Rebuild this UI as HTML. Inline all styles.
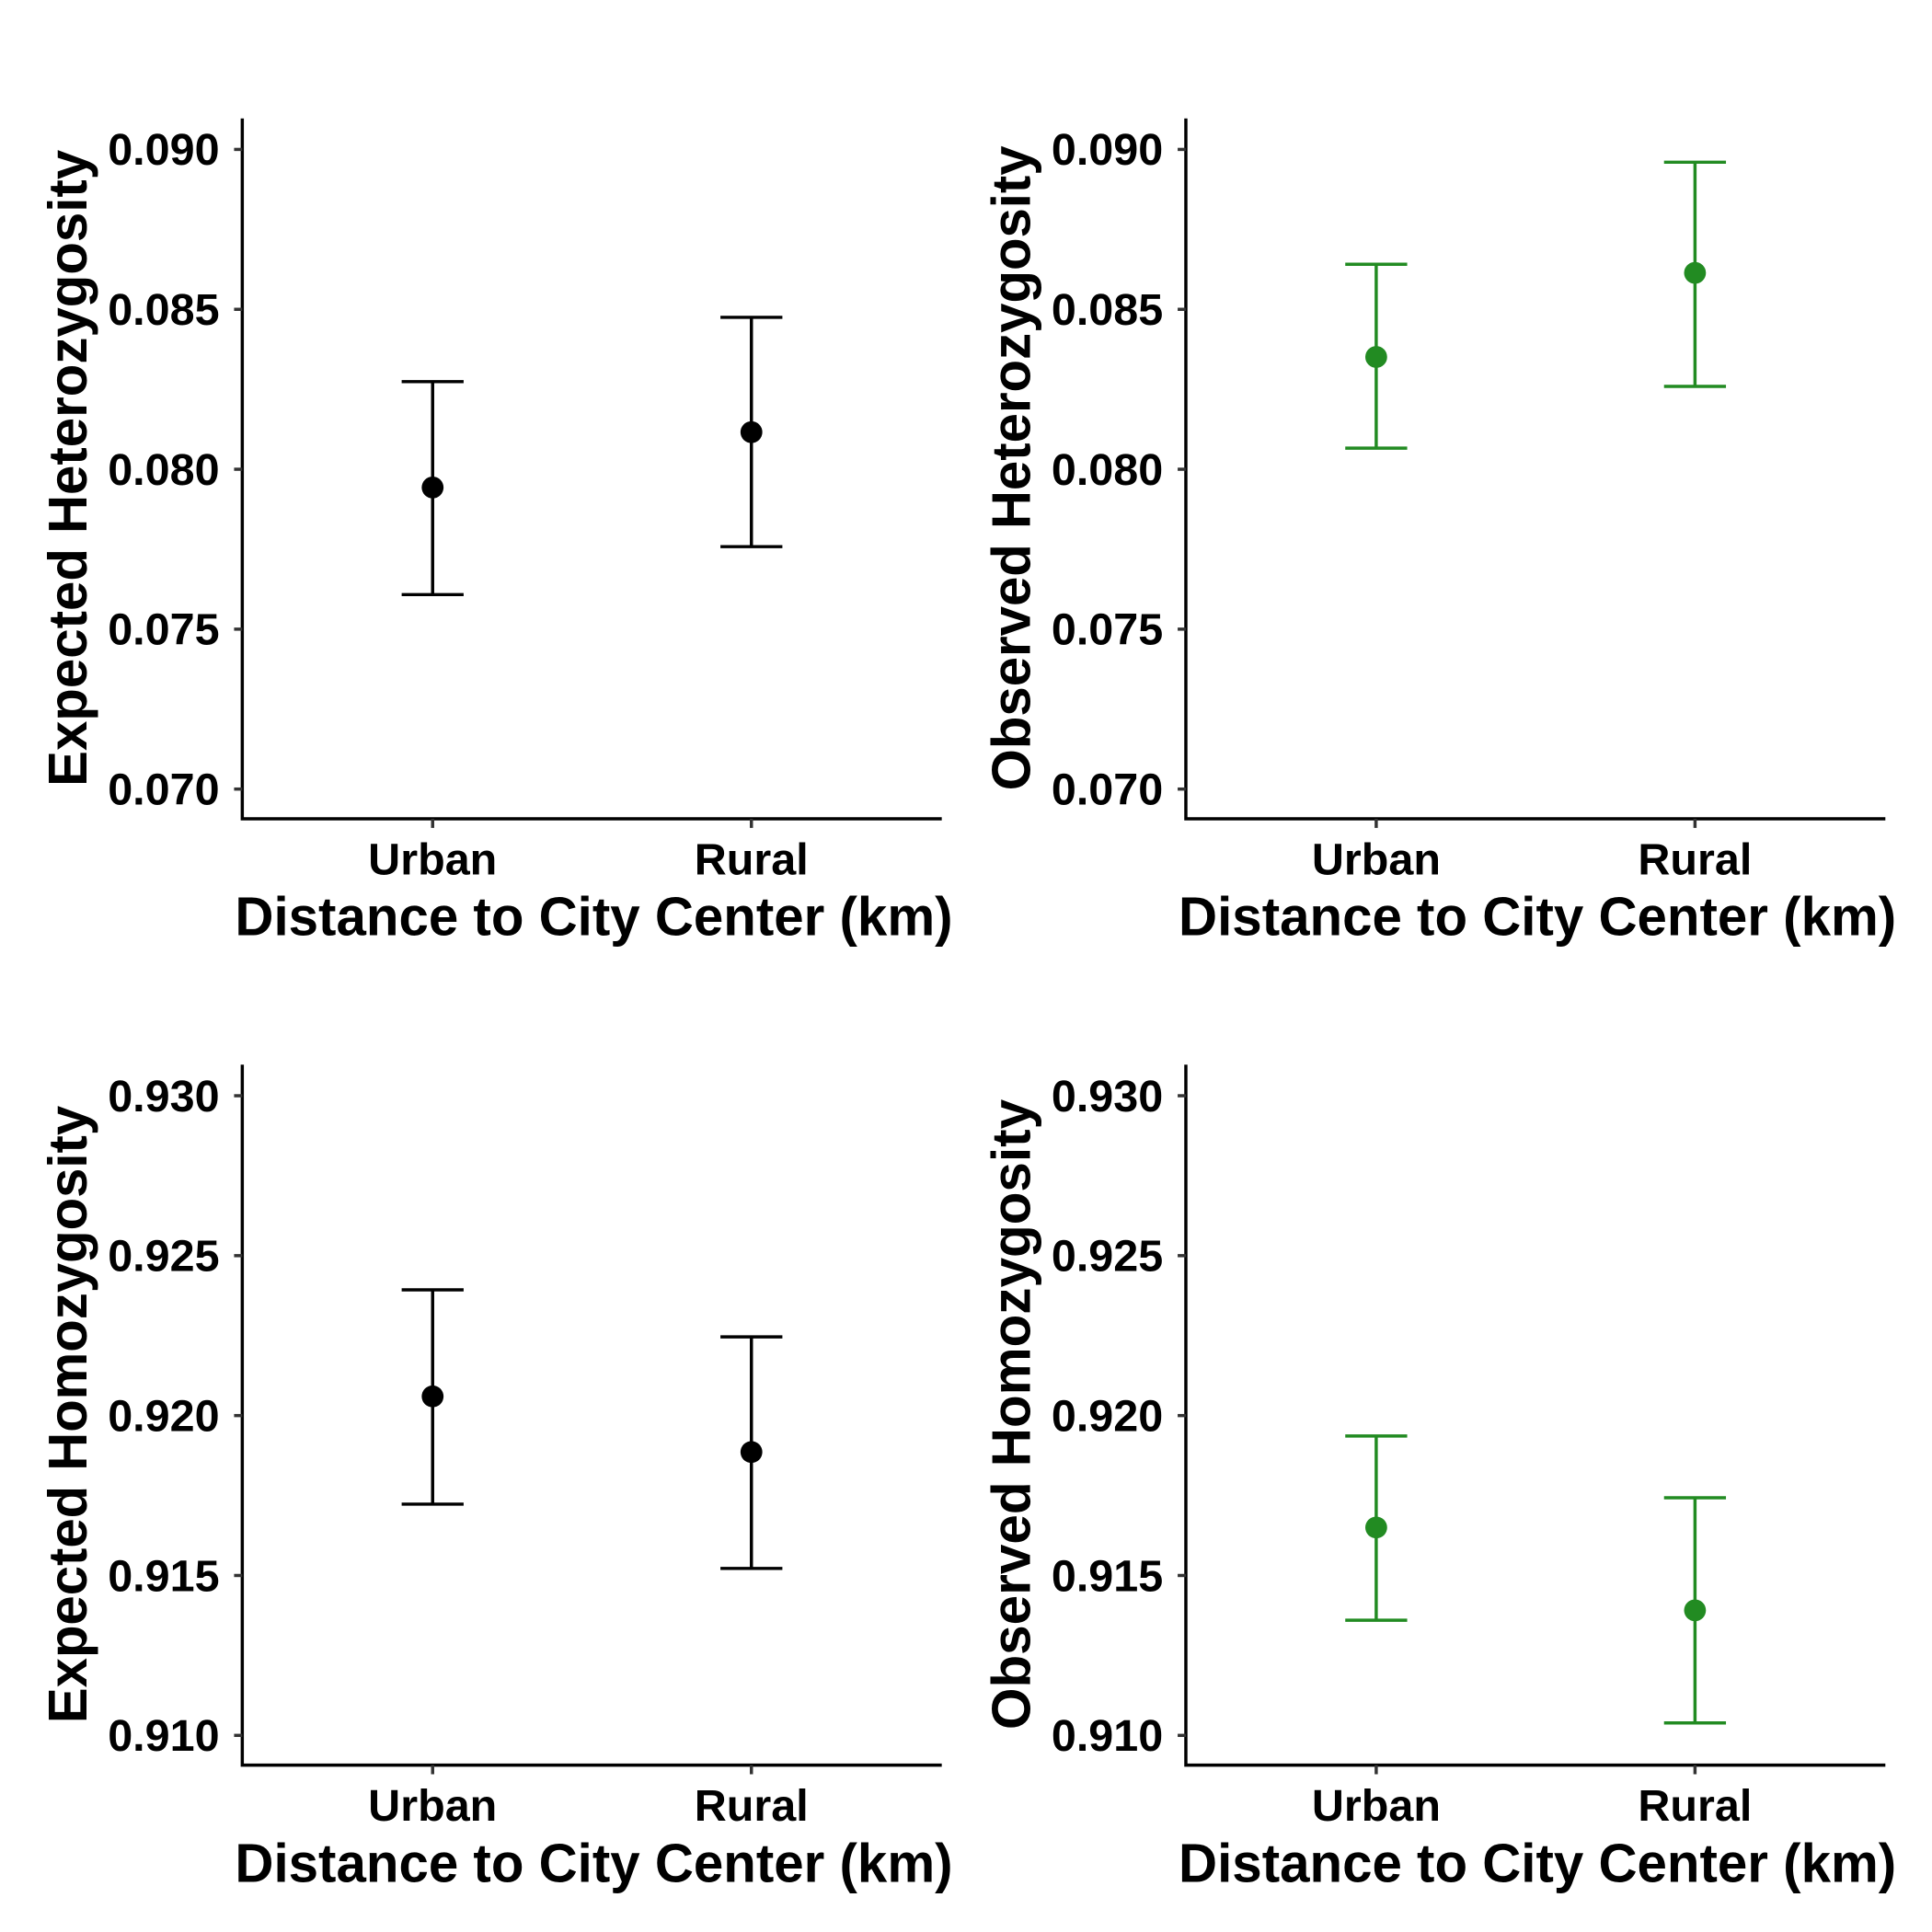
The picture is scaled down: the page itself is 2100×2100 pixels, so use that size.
<!DOCTYPE html>
<html><head><meta charset="utf-8"><style>
html,body{margin:0;padding:0;background:#fff}
svg{display:block}
text{font-family:"Liberation Sans",sans-serif;font-weight:bold;fill:#000}
</style></head><body>
<svg id="chart" width="2100" height="2100" viewBox="0 0 2100 2100"><g id="root" transform="scale(0.99)"></g></svg>
<script>
const categories = ["Urban", "Rural"];
const expHetMean = [0.07943, 0.08116];
const expHetLow = [0.07608, 0.07758];
const expHetHigh = [0.08274, 0.08475];
const obsHetMean = [0.08351, 0.08614];
const obsHetLow = [0.08066, 0.08259];
const obsHetHigh = [0.08641, 0.0896];
const expHomMean = [0.9206, 0.91886];
const expHomLow = [0.91723, 0.91522];
const expHomHigh = [0.92393, 0.92246];
const obsHomMean = [0.9165, 0.91391];
const obsHomLow = [0.9136, 0.91039];
const obsHomHigh = [0.91936, 0.91743];
const hetTicks = [0.070, 0.075, 0.080, 0.085, 0.090];
const homTicks = [0.910, 0.915, 0.920, 0.925, 0.930];
const hetDomain = [0.06907, 0.09097];
const homDomain = [0.90907, 0.93097];
const panelTitles = ["Expected Heterozygosity", "Observed Heterozygosity", "Expected Homozygosity", "Observed Homozygosity"];
const xTitle = "Distance to City Center (km)";

const NS = "http://www.w3.org/2000/svg";
const svg = document.getElementById("root");
function mk(tag, attrs, parent) {
  const e = document.createElementNS(NS, tag);
  for (const k in attrs) e.setAttribute(k, attrs[k]);
  parent.appendChild(e);
  return e;
}
const titleLens = [699, 708, 678, 692];
function panel(idx, ox, oy, mean, low, high, ticks, domain, color, slug) {
  const g = mk("g", {transform: `translate(${ox},${oy})`}, svg);
  
  
  const L = 266, R = 1034, T = 130, B = 899;
  const y = v => B - (v - domain[0]) / (domain[1] - domain[0]) * (B - T);
  const xs = [475, 825];
  const x = i => xs[i];
  const ax = mk("path", {d: `M${L},${T}V${B}H${R}`, fill: "none", stroke: "#000", "stroke-width": 3.5}, g);
  
  
  ticks.forEach(t => {
    const tk = mk("line", {x1: L - 9, x2: L, y1: y(t), y2: y(t), stroke: "#333", "stroke-width": 3.5}, g);
    
    
    const tl = mk("text", {x: 241, y: y(t) + 17, "text-anchor": "end", "font-size": 49}, g);
    tl.textContent = t.toFixed(3);
    
    
  });
  categories.forEach((c, i) => {
    const tk = mk("line", {x1: x(i), x2: x(i), y1: B, y2: B + 10, stroke: "#333", "stroke-width": 3.5}, g);
    
    
    const tl = mk("text", {x: x(i), y: 960, "text-anchor": "middle", "font-size": 49}, g);
    tl.textContent = c;
    
    
    const eb = mk("path", {d: `M${x(i)-34},${y(high[i])}H${x(i)+34}M${x(i)},${y(high[i])}V${y(low[i])}M${x(i)-34},${y(low[i])}H${x(i)+34}`, fill: "none", stroke: color, "stroke-width": 3.5}, g);
    
    
    const pt = mk("circle", {cx: x(i), cy: y(mean[i]), r: 12, fill: color}, g);
    
    
  });
  const xt = mk("text", {x: 652, y: 1027, "text-anchor": "middle", "font-size": 60, textLength: 788, lengthAdjust: "spacingAndGlyphs"}, g);
  xt.textContent = xTitle;
  
  
  const yt = mk("text", {x: 0, y: 0, transform: `translate(95,514) rotate(-90)`, "text-anchor": "middle", "font-size": 60, textLength: titleLens[idx], lengthAdjust: "spacingAndGlyphs"}, g);
  yt.textContent = panelTitles[idx];
  
  
}
const green = "#228B22";
panel(0, 0, 0, expHetMean, expHetLow, expHetHigh, hetTicks, hetDomain, "#000", "expected-heterozygosity");
panel(1, 1036, 0, obsHetMean, obsHetLow, obsHetHigh, hetTicks, hetDomain, green, "observed-heterozygosity");
panel(2, 0, 1039, expHomMean, expHomLow, expHomHigh, homTicks, homDomain, "#000", "expected-homozygosity");
panel(3, 1036, 1039, obsHomMean, obsHomLow, obsHomHigh, homTicks, homDomain, green, "observed-homozygosity");
</script>
</body></html>
